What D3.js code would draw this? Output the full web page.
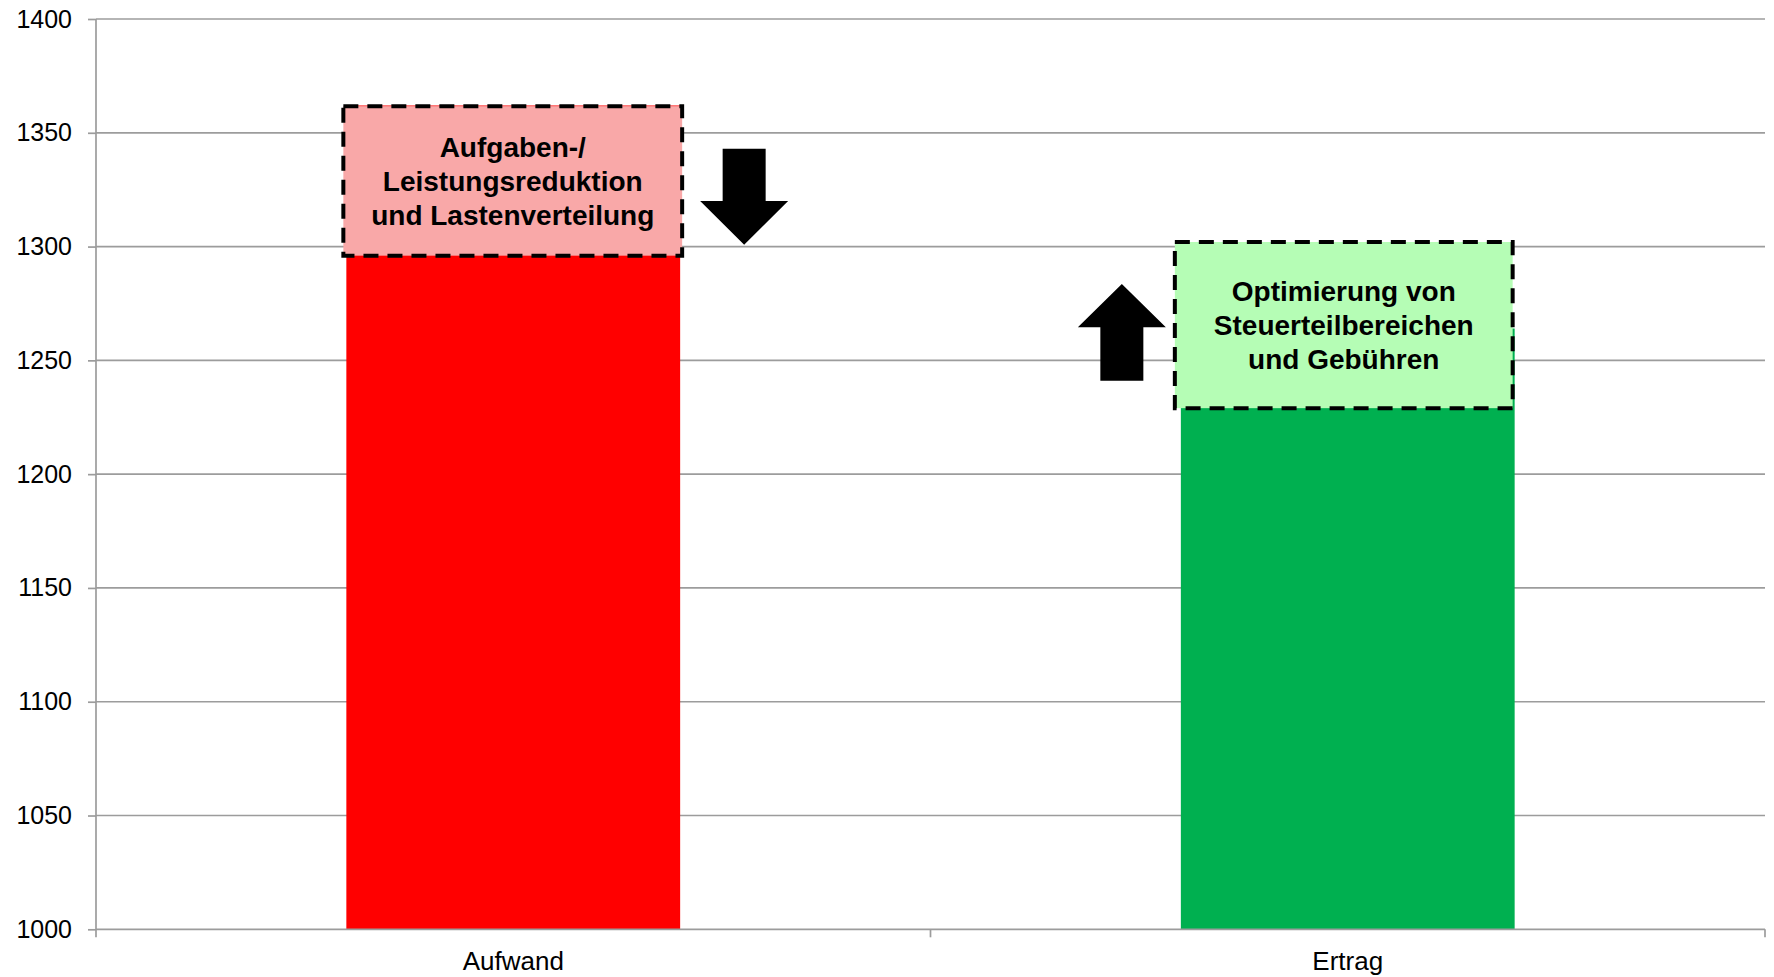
<!DOCTYPE html>
<html>
<head>
<meta charset="utf-8">
<script src="https://cdn.jsdelivr.net/npm/d3@7"></script>
<style>
  html, body { margin: 0; padding: 0; background: #fff; }
  svg { display: block; font-family: "Liberation Sans", Arial, sans-serif; }
</style>
</head>
<body>
<svg id="chart" width="1774" height="977"></svg>
<script>
// Categories and bar values
const categories = ["Aufwand", "Ertrag"];
const barValues = [1362, 1264];
const barColors = ["#FF0000", "#00B050"];

// Y axis ticks
const yTicks = [1000, 1050, 1100, 1150, 1200, 1250, 1300, 1350, 1400];

// Dashed measure boxes: value range and their text lines
const boxCategories = ["Aufwand", "Ertrag"];
const boxLow = [1296, 1229];
const boxHigh = [1361.7, 1302];
const boxLines = [
  ["Aufgaben-/", "Leistungsreduktion", "und Lastenverteilung"],
  ["Optimierung von", "Steuerteilbereichen", "und Gebühren"]
];
const boxFills = ["#F9A8A8", "#B5FDB5"];

// Direction arrows: category, tail value, head base value, tip value
const arrowCategories = ["Aufwand", "Ertrag"];
const arrowTail = [1343, 1241];
const arrowHeadBase = [1320, 1264.6];
const arrowTip = [1300.8, 1283.6];

// ---- layout ----
const W = 1774, H = 977;
const plot = { left: 96, right: 1765, top: 19, bottom: 929.3 };
const gridColor = "#9c9c9c";

const svg = d3.select("#chart");
svg.append("rect").attr("width", W).attr("height", H).attr("fill", "#fff");

const y = d3.scaleLinear().domain([1000, 1400]).range([plot.bottom, plot.top]);
const x = d3.scaleBand().domain(categories).range([plot.left, plot.right])
  .paddingInner(0.6).paddingOuter(0.3);

// horizontal gridlines
svg.append("g").selectAll("line")
  .data(yTicks.filter(t => t > 1000))
  .join("line")
  .attr("x1", plot.left).attr("x2", plot.right)
  .attr("y1", d => y(d)).attr("y2", d => y(d))
  .attr("stroke", gridColor).attr("stroke-width", 1.7);

// bars
svg.append("g").selectAll("rect")
  .data(categories)
  .join("rect")
  .attr("x", d => x(d))
  .attr("width", x.bandwidth())
  .attr("y", (d, i) => y(barValues[i]))
  .attr("height", (d, i) => y(1000) - y(barValues[i]))
  .attr("fill", (d, i) => barColors[i]);

// y axis
const yAxis = svg.append("g")
  .attr("transform", `translate(${plot.left},0)`)
  .call(d3.axisLeft(y).tickValues(yTicks).tickSize(8).tickPadding(16).tickFormat(d3.format("d")));
yAxis.select(".domain").remove();
yAxis.selectAll(".tick line").attr("stroke", gridColor).attr("stroke-width", 1.7);
yAxis.selectAll(".tick text").attr("fill", "#000").attr("font-size", 25)
  .attr("font-family", "'Liberation Sans', Arial, sans-serif");
svg.append("line")
  .attr("x1", plot.left).attr("x2", plot.left)
  .attr("y1", plot.top).attr("y2", plot.bottom + 8)
  .attr("stroke", gridColor).attr("stroke-width", 1.7);

// x axis baseline, category separators and labels
svg.append("line")
  .attr("x1", plot.left).attr("x2", plot.right)
  .attr("y1", plot.bottom).attr("y2", plot.bottom)
  .attr("stroke", gridColor).attr("stroke-width", 1.7);
const step = x.step();
const separators = d3.range(categories.length + 1).map(i => plot.left + i * step);
svg.append("g").selectAll("line")
  .data(separators.slice(1))
  .join("line")
  .attr("x1", d => d).attr("x2", d => d)
  .attr("y1", plot.bottom).attr("y2", plot.bottom + 8)
  .attr("stroke", gridColor).attr("stroke-width", 1.7);

const xAxis = svg.append("g")
  .attr("transform", `translate(0,${plot.bottom})`)
  .call(d3.axisBottom(x).tickSize(0));
xAxis.select(".domain").remove();
xAxis.selectAll(".tick text")
  .attr("y", 41).attr("dy", 0)
  .attr("fill", "#000").attr("font-size", 26)
  .attr("font-family", "'Liberation Sans', Arial, sans-serif");

// dashed measure boxes
const boxOffsets = [[-3, 2], [-6, -2]];
const boxes = svg.append("g").selectAll("g")
  .data(boxCategories)
  .join("g");
boxes.append("rect")
  .attr("x", (d, i) => x(d) + boxOffsets[i][0])
  .attr("width", (d, i) => x.bandwidth() - boxOffsets[i][0] + boxOffsets[i][1])
  .attr("y", (d, i) => y(boxHigh[i]))
  .attr("height", (d, i) => y(boxLow[i]) - y(boxHigh[i]))
  .attr("fill", (d, i) => boxFills[i])
  .attr("stroke", "#000").attr("stroke-width", 4)
  .attr("stroke-dasharray", "15,9");
boxes.each(function(d, i) {
  const g = d3.select(this);
  const cx = x(d) + (x.bandwidth() + boxOffsets[i][0] + boxOffsets[i][1]) / 2;
  const cy = (y(boxHigh[i]) + y(boxLow[i])) / 2;
  const lh = 33.8;
  g.append("text")
    .attr("text-anchor", "middle")
    .attr("font-weight", "bold")
    .attr("font-size", 28)
    .attr("fill", "#000")
    .selectAll("tspan")
    .data(boxLines[i])
    .join("tspan")
    .attr("x", cx)
    .attr("y", (t, j) => cy + (j - 1) * lh + 10);
  g.selectAll("tspan").text(t => t);
});

// block arrows next to the boxes
const arrowX = [x("Aufwand") + x.bandwidth() + 64, x("Ertrag") - 59];
const shaftHalf = 21.5, headHalf = 44;
svg.append("g").selectAll("path")
  .data(arrowCategories)
  .join("path")
  .attr("d", (d, i) => {
    const cx = arrowX[i];
    const yt = y(arrowTail[i]), yb = y(arrowHeadBase[i]), yp = y(arrowTip[i]);
    return `M${cx - shaftHalf},${yt}L${cx + shaftHalf},${yt}L${cx + shaftHalf},${yb}` +
      `L${cx + headHalf},${yb}L${cx},${yp}L${cx - headHalf},${yb}L${cx - shaftHalf},${yb}Z`;
  })
  .attr("fill", "#000");
</script>
</body>
</html>
